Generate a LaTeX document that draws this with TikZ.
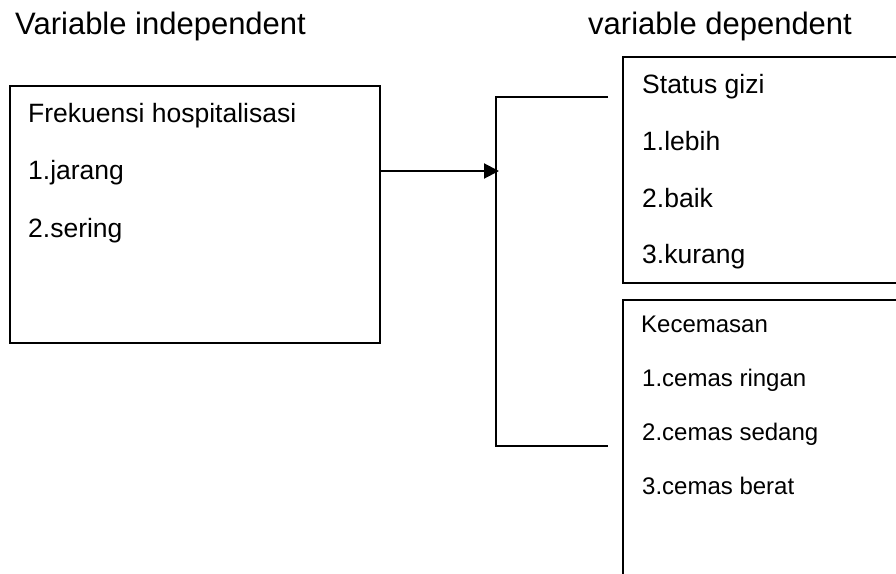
\documentclass[tikz,border=0pt]{standalone}
\usepackage{fontspec}
\setmainfont{Liberation Sans}
\usetikzlibrary{arrows.meta}
\begin{document}
\begin{tikzpicture}[x=1pt,y=-1pt,
  box/.style={draw=black,line width=2pt,inner sep=0pt,outer sep=0pt,anchor=north west},
  title/.style={font=\fontsize{31}{36}\selectfont,anchor=base west,inner sep=0pt},
  item/.style={font=\fontsize{26.5}{30}\selectfont,anchor=base west,inner sep=0pt},
  small/.style={font=\fontsize{24}{28}\selectfont,anchor=base west,inner sep=0pt},
  link/.style={line width=1.5pt},
  arrowline/.style={line width=2pt,-{Triangle[length=15pt,width=15pt]}}]
\useasboundingbox (0,0) rectangle (896,573);
\clip (0,0) rectangle (896,573);
% titles
\node[title] (t1) at (15,34) {Variable independent};
\node[title] (t2) at (588,34) {variable dependent};
% boxes
\node[box,minimum width=370pt,minimum height=257pt] (fh) at (9.5,86) {};
\node[box,minimum width=300pt,minimum height=226pt] (sg) at (623,57) {};
\node[box,minimum width=300pt,minimum height=300pt] (kc) at (623,300) {};
% texts box 1
\node[item] (f0) at (28,122) {Frekuensi hospitalisasi};
\node[item] (f1) at (28,179.5) {1.jarang};
\node[item] (f2) at (28,237) {2.sering};
% texts box 2
\node[item] (s0) at (642,93) {Status gizi};
\node[item] (s1) at (642,150) {1.lebih};
\node[item] (s2) at (642,207) {2.baik};
\node[item] (s3) at (642,263.5) {3.kurang};
% texts box 3
\node[small] (k0) at (641,332) {Kecemasan};
\node[small] (k1) at (642,386.5) {1.cemas ringan};
\node[small] (k2) at (642,440) {2.cemas sedang};
\node[small] (k3) at (642,494) {3.cemas berat};
% connectors
\coordinate (ah) at (499,171);
\coordinate (bt) at (496,97);
\coordinate (bb) at (496,446);
\coordinate (et) at (608,97);
\coordinate (eb) at (608,446);
\draw[link] (et) -- (bt) -- (bb) -- (eb);
\draw[arrowline] (fh.east |- ah) -- (ah);
\end{tikzpicture}
\end{document}
